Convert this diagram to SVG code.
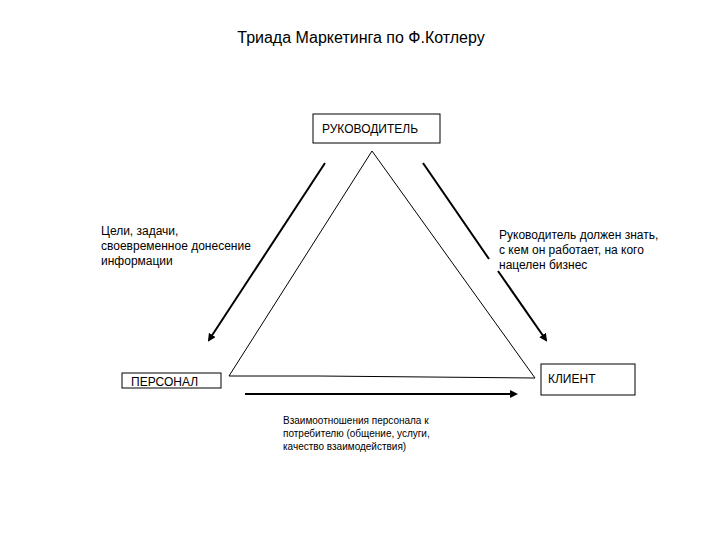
<svg xmlns="http://www.w3.org/2000/svg" width="720" height="540" viewBox="0 0 720 540">
<style>
text{font-family:"Liberation Sans",Arial,sans-serif;fill:#000}
.t{font-size:16px}
.l{font-size:12px}
.s{font-size:10px}
.box{fill:#fff;stroke:#000;stroke-width:1}
.tri{fill:none;stroke:#000;stroke-width:1}
.arr{fill:none;stroke:#000;stroke-width:2}
</style>
<defs>
<marker id="ah" markerWidth="8" markerHeight="8" refX="6" refY="4" orient="auto" markerUnits="userSpaceOnUse">
<path d="M0,0 L8,4 L0,8 Z" fill="#000"/>
</marker>
</defs>
<rect width="720" height="540" fill="#fff"/>
<text class="t" x="361" y="43" text-anchor="middle">Триада Маркетинга по Ф.Котлеру</text>
<g id="connectors">
<path class="tri" d="M372,151 L229,376 L318,376 L535,378 Z"/>
<path class="arr" d="M325,163 L209,340" marker-end="url(#ah)"/>
<path class="arr" d="M423,163 L489,259"/>
<path class="arr" d="M498,271 L546,340" marker-end="url(#ah)"/>
<path class="arr" d="M245,394 L516,394" marker-end="url(#ah)"/>
</g>
<g id="rukovoditel">
<rect class="box" x="313" y="114" width="127" height="29"/>
<text class="l" x="322" y="133">РУКОВОДИТЕЛЬ</text>
</g>
<g id="personal">
<rect class="box" x="122" y="373" width="99" height="15"/>
<text class="l" x="131" y="386">ПЕРСОНАЛ</text>
</g>
<g id="klient">
<rect class="box" x="541" y="364" width="94" height="31"/>
<text class="l" x="548" y="383">КЛИЕНТ</text>
</g>
<g id="label-left">
<text class="l" x="101" y="235">Цели, задачи,</text>
<text class="l" x="101" y="250">своевременное донесение</text>
<text class="l" x="101" y="265">информации</text>
</g>
<g id="label-right">
<text class="l" x="499" y="239">Руководитель должен знать,</text>
<text class="l" x="499" y="254">с кем он работает, на кого</text>
<text class="l" x="499" y="269">нацелен бизнес</text>
</g>
<g id="label-bottom">
<text class="s" x="283" y="424">Взаимоотношения персонала к</text>
<text class="s" x="283" y="437">потребителю (общение, услуги,</text>
<text class="s" x="283" y="450">качество взаимодействия)</text>
</g>
</svg>
